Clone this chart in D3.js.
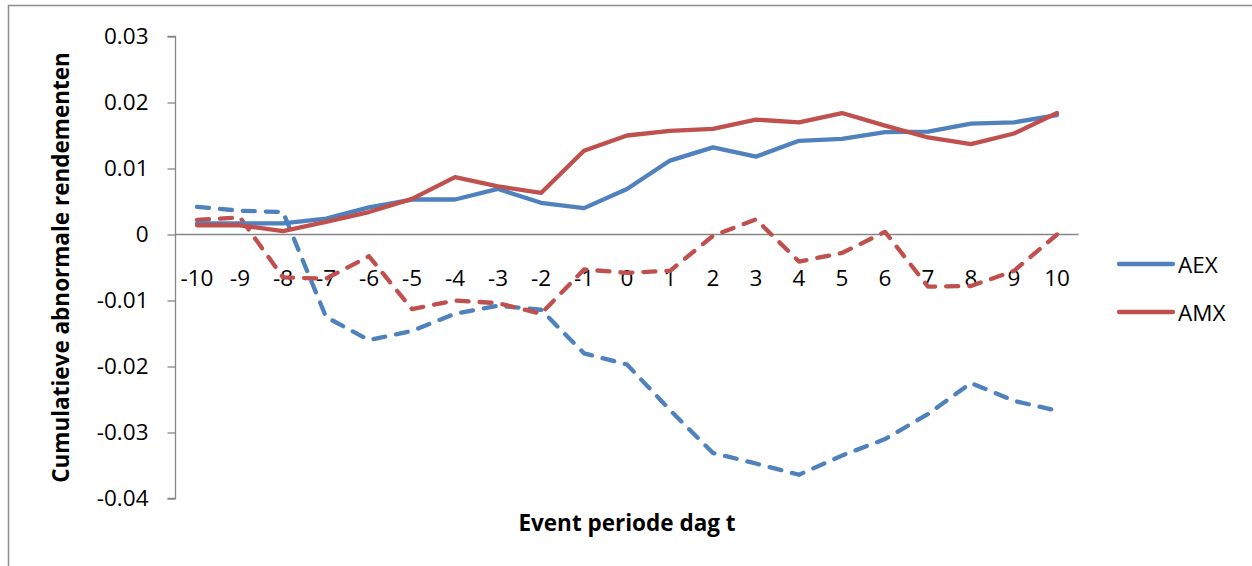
<!DOCTYPE html>
<html>
<head>
<meta charset="utf-8">
<script src="https://cdn.jsdelivr.net/npm/d3@7/dist/d3.min.js"></script>
<style>
  html, body { margin: 0; padding: 0; background: #fff; }
  svg { display: block; }
  text { font-family: "Open Sans", "Noto Sans", sans-serif; fill: #000; }
</style>
</head>
<body>
<svg id="chart" width="1252" height="566"></svg>
<script>
// Event days t = -10 .. 10
const days = ["-10","-9","-8","-7","-6","-5","-4","-3","-2","-1","0","1","2","3","4","5","6","7","8","9","10"];

// Cumulative abnormal returns, solid lines
const aexSolid = [0.0017, 0.0017, 0.0017, 0.0024, 0.0041, 0.0053, 0.0053, 0.0069, 0.0048, 0.0040,
                  0.0069, 0.0112, 0.0132, 0.0118, 0.0142, 0.0145, 0.0155, 0.0156, 0.0168, 0.0170, 0.0181];
const amxSolid = [0.0014, 0.0014, 0.0005, 0.0019, 0.0034, 0.0054, 0.0087, 0.0073, 0.0063, 0.0127,
                  0.0150, 0.0157, 0.0160, 0.0174, 0.0170, 0.0184, 0.0165, 0.0147, 0.0137, 0.0153, 0.0184];

// Cumulative abnormal returns, dashed lines
const aexDashed = [0.0042, 0.0036, 0.0034, -0.0125, -0.0160, -0.0146, -0.0120, -0.0108, -0.0114, -0.0180,
                   -0.0197, -0.0266, -0.0331, -0.0347, -0.0364, -0.0335, -0.0310, -0.0272, -0.0225, -0.0252, -0.0267];
const amxDashed = [0.0022, 0.0026, -0.0065, -0.0067, -0.0033, -0.0113, -0.0100, -0.0104, -0.0120, -0.0053,
                   -0.0058, -0.0055, -0.0002, 0.0023, -0.0041, -0.0028, 0.0004, -0.0079, -0.0078, -0.0055, 0.0000];

const yTicks = [-0.04, -0.03, -0.02, -0.01, 0, 0.01, 0.02, 0.03];
const legendItems = ["AEX", "AMX"];

const BLUE = "#4F81BD";
const RED = "#C0504D";
const AXIS = "#868686";

const svg = d3.select("#chart");

// outer chart frame
svg.append("rect")
  .attr("x", 8.5).attr("y", 5.5)
  .attr("width", 1260).attr("height", 600)
  .attr("fill", "none").attr("stroke", "#8c8c8c").attr("stroke-width", 1.5);

const x = d3.scaleBand().domain(days).range([175.5, 1078.5]).paddingInner(0).paddingOuter(0);
const y = d3.scaleLinear().domain([-0.04, 0.03]).range([498.5, 36.5]);
const cx = d => x(d) + x.bandwidth() / 2;

// y axis
const fmt = v => v === 0 ? "0" : (v < 0 ? "-" : "") + Math.abs(v).toFixed(2);
const yAxis = svg.append("g")
  .attr("transform", "translate(175.5,0)")
  .call(d3.axisLeft(y).tickValues(yTicks).tickSize(8).tickPadding(19).tickFormat(fmt));
yAxis.select(".domain").attr("stroke", AXIS).attr("stroke-width", 1.3)
  .attr("d", `M-8,${y(0.03)}H0V${y(-0.04)}H-8`);
yAxis.selectAll(".tick line").attr("stroke", AXIS).attr("stroke-width", 1.3);
yAxis.selectAll(".tick text")
  .style("font-family", "'Open Sans', sans-serif")
  .style("font-size", "22.5px").attr("fill", "#000");

// horizontal axis along zero
svg.append("line")
  .attr("x1", 175.5).attr("x2", 1078.5)
  .attr("y1", y(0)).attr("y2", y(0))
  .attr("stroke", AXIS).attr("stroke-width", 1.3);

svg.append("g").selectAll("text").data(days).join("text")
  .attr("x", d => cx(d)).attr("y", y(0) + 43)
  .attr("text-anchor", "middle").attr("dominant-baseline", "central")
  .style("font-size", "22.5px")
  .text(d => d);

// series lines
const line = d3.line().x((v, i) => cx(days[i])).y(v => y(v));
const series = [
  { values: aexDashed, color: BLUE, dash: "12,11" },
  { values: amxDashed, color: RED, dash: "12,11" },
  { values: aexSolid, color: BLUE, dash: null },
  { values: amxSolid, color: RED, dash: null }
];
svg.append("g").selectAll("path").data(series).join("path")
  .attr("d", s => line(s.values))
  .attr("fill", "none")
  .attr("stroke", s => s.color)
  .attr("stroke-width", 4.3)
  .attr("stroke-linejoin", "round")
  .attr("stroke-linecap", "round")
  .attr("stroke-dasharray", s => s.dash);

// axis titles
svg.append("text")
  .attr("x", cx("0")).attr("y", 522)
  .attr("text-anchor", "middle").attr("dominant-baseline", "central")
  .style("font-size", "22.5px").style("font-weight", "bold")
  .text("Event periode dag t");

svg.append("text")
  .attr("transform", `translate(60,${(y(0.03) + y(-0.04)) / 2}) rotate(-90)`)
  .attr("text-anchor", "middle").attr("dominant-baseline", "central")
  .style("font-size", "22.5px").style("font-weight", "bold")
  .text("Cumulatieve abnormale rendementen");

// legend
const legend = svg.append("g").selectAll("g").data(legendItems).join("g")
  .attr("transform", (d, i) => `translate(1119,${264 + i * 48})`);
legend.append("line")
  .attr("x1", 0).attr("x2", 54).attr("y1", 0).attr("y2", 0)
  .attr("stroke", (d, i) => i === 0 ? BLUE : RED)
  .attr("stroke-width", 4.3).attr("stroke-linecap", "round");
legend.append("text")
  .attr("x", 59).attr("y", 0)
  .attr("dominant-baseline", "central")
  .style("font-size", "22.5px")
  .text(d => d);
</script>
</body>
</html>
